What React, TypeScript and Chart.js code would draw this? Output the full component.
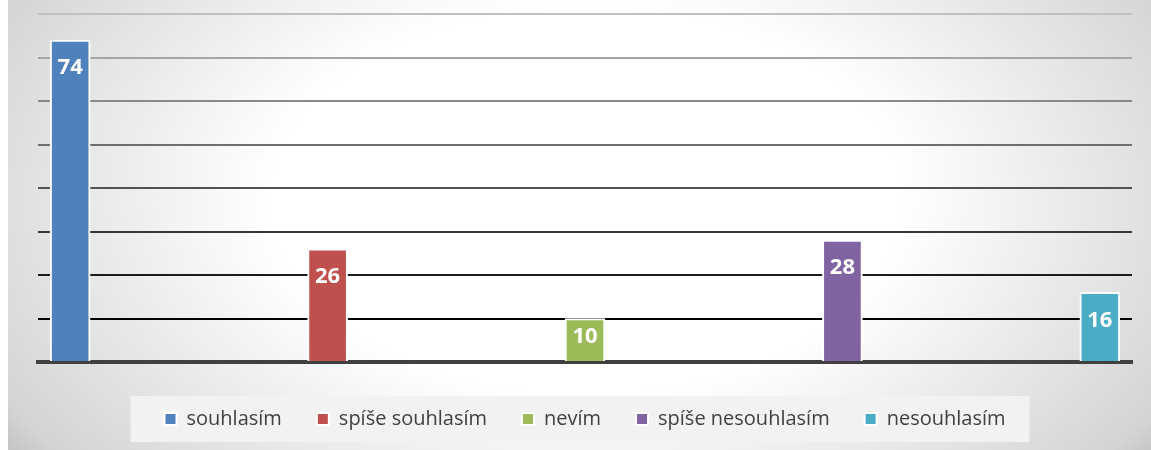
import React, { useEffect, useRef } from 'react';
import { Chart, registerables } from 'chart.js';

Chart.register(...registerables);

// ---- data ----
const categories = ['souhlasím', 'spíše souhlasím', 'nevím', 'spíše nesouhlasím', 'nesouhlasím'];
const values = [74, 26, 10, 28, 16];
const colors = ['#4F81BD', '#C0504D', '#9BBB59', '#8064A2', '#4BACC6'];
const yMin = 0;
const yMax = 80;
const yStep = 10;

const gridColor = (v: number) => {
  if (v === 0) return 'rgba(0,0,0,0)';
  const g = Math.max(0, Math.min(192, Math.round(((v - 10) / 70) * 192)));
  return `rgb(${g},${g},${g})`;
};

const bgPlugin = {
  id: 'bgPlugin',
  beforeDraw(chart: any) {
    const ctx = chart.ctx;
    const w = chart.width;
    const h = chart.height;
    ctx.save();
    const cx = 577;
    const cy = 200;
    const rx = 700;
    const ry = 430;
    ctx.translate(cx, cy);
    ctx.scale(1, ry / rx);
    const g = ctx.createRadialGradient(0, 0, 0, 0, 0, rx);
    g.addColorStop(0, '#ffffff');
    g.addColorStop(0.45, '#ffffff');
    g.addColorStop(0.95, '#d4d4d4');
    g.addColorStop(1, '#c6c6c6');
    ctx.fillStyle = g;
    ctx.fillRect(-cx, -cy * (rx / ry), w, h * (rx / ry));
    ctx.restore();

    // legend background box
    const legend = chart.legend;
    if (legend && legend.legendHitBoxes && legend.legendHitBoxes.length) {
      const hb = legend.legendHitBoxes;
      const first = hb[0];
      const last = hb[hb.length - 1];
      const left = first.left - 34;
      const right = last.left + last.width + 24;
      const midY = first.top + first.height / 2;
      ctx.save();
      ctx.fillStyle = '#f2f2f2';
      ctx.fillRect(left, midY - 23, right - left, 46);
      ctx.restore();
    }
  },
};

const labelPlugin = {
  id: 'labelPlugin',
  afterDatasetsDraw(chart: any) {
    const ctx = chart.ctx;
    ctx.save();
    ctx.font = 'bold 22px "Open Sans"';
    ctx.fillStyle = '#ffffff';
    ctx.textAlign = 'center';
    ctx.textBaseline = 'middle';
    chart.data.datasets.forEach((ds: any, i: number) => {
      const meta = chart.getDatasetMeta(i);
      const el = meta.data[0];
      if (!el) return;
      const { x, y, base } = el.getProps(['x', 'y', 'base'], true);
      const h = base - y;
      const ty = y + Math.min(28, h / 2 - 3);
      ctx.fillText(String(values[i]), x, ty);
    });
    ctx.restore();
  },
};

export default function App() {
  const ref = useRef<HTMLCanvasElement>(null);

  useEffect(() => {
    if (!ref.current) return;
    const chart = new Chart(ref.current, {
      type: 'bar',
      data: {
        datasets: categories.map((c, i) => ({
          label: c,
          data: [{ x: i, y: values[i] }],
          backgroundColor: colors[i],
          borderColor: '#ffffff',
          borderWidth: 2,
          barThickness: 40,
          grouped: false,
        })),
      },
      options: {
        animation: false,
        responsive: false,
        devicePixelRatio: 1,
        layout: { padding: { top: 14, left: 30, right: 30, bottom: 11 } },
        scales: {
          x: {
            type: 'linear',
            min: -0.125,
            max: 4.125,
            offset: false,
            display: true,
            z: 1,
            ticks: { display: false },
            grid: { display: false, drawTicks: false },
            border: { display: true, color: '#404040', width: 4 },
            afterFit: (s: any) => {
              s.height = 12;
            },
          },
          y: {
            min: yMin,
            max: yMax,
            ticks: { display: false, stepSize: yStep },
            grid: {
              drawTicks: false,
              color: (c: any) => gridColor(c.tick ? c.tick.value : 0),
              lineWidth: 2,
            },
            border: { display: false },
          },
        },
        plugins: {
          tooltip: { enabled: false },
          legend: {
            position: 'bottom',
            labels: {
              font: { family: 'Open Sans', size: 20 },
              color: '#404040',
              boxWidth: 12,
              boxHeight: 12,
              padding: 35,
            },
          },
        },
      } as any,
      plugins: [bgPlugin, labelPlugin],
    });
    return () => chart.destroy();
  }, []);

  return (
    <div
      style={{
        position: 'fixed',
        left: 0,
        top: 0,
        width: 1151,
        height: 450,
        overflow: 'hidden',
        background: '#ffffff',
      }}
    >
      <div style={{ position: 'absolute', left: 8, top: 0, width: 1154, height: 450 }}>
        <canvas ref={ref} width={1154} height={450} />
      </div>
    </div>
  );
}
